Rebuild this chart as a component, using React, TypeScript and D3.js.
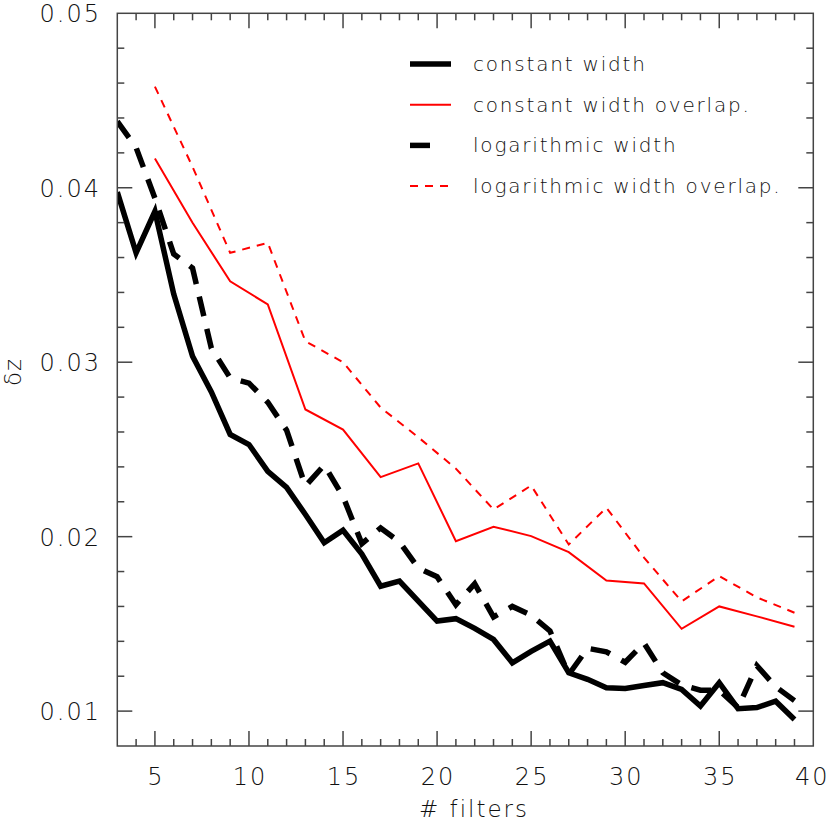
import React, { useEffect, useRef } from "react"
import * as d3 from "d3"

const allFilters = d3.range(3, 40)
const oddFilters = d3.range(5, 40, 2)

const constantWidth = [
    0.03975, 0.03627, 0.03865, 0.0339, 0.03034, 0.0283, 0.02586, 0.02528,
    0.02374, 0.02282, 0.02127, 0.01965, 0.02037, 0.019, 0.01716, 0.01745,
    0.0163, 0.01516, 0.0153, 0.01474, 0.01411, 0.01277, 0.01342, 0.01401,
    0.0122, 0.01182, 0.01134, 0.0113, 0.01147, 0.01163, 0.01124, 0.01029,
    0.01163, 0.01014, 0.0102, 0.01057, 0.00952,
]
const logWidth = [
    0.0438, 0.0423, 0.0394, 0.0362, 0.0354, 0.0308, 0.0291, 0.0288, 0.0277,
    0.0261, 0.0229, 0.0241, 0.0223, 0.0196, 0.0205, 0.0197, 0.0182, 0.0177,
    0.0161, 0.0173, 0.0154, 0.016, 0.0155, 0.0146, 0.0121, 0.0136, 0.0134,
    0.0128, 0.0139, 0.0122, 0.0115, 0.0112, 0.0112, 0.0102, 0.0126, 0.0114,
    0.0106,
]
const constantOverlap = [
    0.04167, 0.03799, 0.03464, 0.03331, 0.02729, 0.02614, 0.02341, 0.0242,
    0.01974, 0.02057, 0.02003, 0.01911, 0.01749, 0.01732, 0.01472, 0.016,
    0.01543, 0.01484,
]
const logOverlap = [
    0.0458, 0.0412, 0.03627, 0.03684, 0.0312, 0.03, 0.0274, 0.0257, 0.0239,
    0.02156, 0.02293, 0.01955, 0.02166, 0.0188, 0.01629, 0.01774, 0.01652,
    0.01564,
]

const xTicks = [5, 10, 15, 20, 25, 30, 35, 40]
const yTicks = [0.01, 0.02, 0.03, 0.04, 0.05]

const series = [
    { label: "constant width", xs: allFilters, ys: constantWidth, color: "#000", width: 5.5, dash: null, legendDash: null },
    { label: "constant width overlap.", xs: oddFilters, ys: constantOverlap, color: "#ff0000", width: 2, dash: null, legendDash: null },
    { label: "logarithmic width", xs: allFilters, ys: logWidth, color: "#000", width: 5.5, dash: "20,13", legendDash: "20,30" },
    { label: "logarithmic width overlap.", xs: oddFilters, ys: logOverlap, color: "#ff0000", width: 2, dash: "8,7", legendDash: "8,7" },
]

const FONT = "'DejaVu Sans', sans-serif"

const App = () => {
    const ref = useRef<SVGSVGElement | null>(null)

    useEffect(() => {
        if (!ref.current) return
        const svg = d3.select(ref.current)
        svg.selectAll("*").remove()

        const left = 117.3
        const right = 813.3
        const top = 13.3
        const bottom = 746

        const x = d3.scaleLinear().domain([3, 40]).range([left, right])
        const y = d3.scaleLinear().domain([0.008, 0.05]).range([bottom, top])

        const axisColor = "#444"

        // lines (clipped to the frame)
        svg.append("clipPath")
            .attr("id", "frame")
            .append("rect")
            .attr("x", left)
            .attr("y", top)
            .attr("width", right - left)
            .attr("height", bottom - top)

        const lines = svg.append("g").attr("clip-path", "url(#frame)")
        series.forEach((s) => {
            const pts: [number, number][] = s.xs.map((v, i) => [v, s.ys[i]])
            const line = d3
                .line<[number, number]>()
                .x((d) => x(d[0]))
                .y((d) => y(d[1]))
            lines
                .append("path")
                .attr("d", line(pts))
                .attr("fill", "none")
                .attr("stroke", s.color)
                .attr("stroke-width", s.width)
                .attr("stroke-linejoin", "miter")
                .attr("stroke-dasharray", s.dash)
        })

        // frame
        svg.append("rect")
            .attr("x", left)
            .attr("y", top)
            .attr("width", right - left)
            .attr("height", bottom - top)
            .attr("fill", "none")
            .attr("stroke", axisColor)
            .attr("stroke-width", 1.5)

        const ticks = svg.append("g").attr("stroke", axisColor).attr("stroke-width", 1.5)

        // x ticks, minor every 1
        d3.range(4, 40).forEach((v) => {
            const major = v % 5 === 0
            const len = major ? 15 : 7
            ticks.append("line").attr("x1", x(v)).attr("x2", x(v)).attr("y1", bottom).attr("y2", bottom - len)
            ticks.append("line").attr("x1", x(v)).attr("x2", x(v)).attr("y1", top).attr("y2", top + len)
        })

        // y ticks, minor every 0.002
        d3.range(5, 25).forEach((k) => {
            const v = k * 0.002
            const major = k % 5 === 0
            const len = major ? 15 : 7
            ticks.append("line").attr("x1", left).attr("x2", left + len).attr("y1", y(v)).attr("y2", y(v))
            ticks.append("line").attr("x1", right).attr("x2", right - len).attr("y1", y(v)).attr("y2", y(v))
        })

        const labelStyle = (sel: any) =>
            sel
                .attr("font-family", FONT)
                .attr("font-weight", 200)
                .attr("font-size", 24)
                .attr("letter-spacing", 2)
                .attr("fill", "#111")

        xTicks.forEach((v) => {
            svg.append("text")
                .call(labelStyle)
                .attr("x", v === 40 ? x(v) - 1 : x(v) + 1)
                .attr("y", 785)
                .attr("text-anchor", "middle")
                .text(v)
        })

        yTicks.forEach((v) => {
            svg.append("text")
                .call(labelStyle)
                .attr("x", 101)
                .attr("y", y(v) + 9)
                .attr("text-anchor", "end")
                .text(d3.format(".2f")(v))
        })

        svg.append("text")
            .call(labelStyle)
            .attr("font-size", 23)
            .attr("x", 474)
            .attr("y", 817)
            .attr("text-anchor", "middle")
            .text("# filters")

        svg.append("text")
            .call(labelStyle)
            .attr("font-size", 23)
            .attr("letter-spacing", 1)
            .attr("transform", "translate(21,372) rotate(-90)")
            .attr("text-anchor", "middle")
            .text("δz")

        // legend
        const legend = svg.append("g")
        series.forEach((s, i) => {
            const ly = 64 + i * 40.7
            legend
                .append("line")
                .attr("x1", 410)
                .attr("x2", 451)
                .attr("y1", ly)
                .attr("y2", ly)
                .attr("stroke", s.color)
                .attr("stroke-width", s.width)
                .attr("stroke-dasharray", s.legendDash)
            legend
                .append("text")
                .call(labelStyle)
                .attr("font-size", 20)
                .attr("letter-spacing", 1.8)
                .attr("x", 473)
                .attr("y", ly + 7)
                .text(s.label)
        })
    }, [])

    return (
        <svg
            ref={ref}
            width={830}
            height={834}
            style={{ position: "absolute", left: 0, top: 0, background: "#fff" }}
        />
    )
}

export default App
